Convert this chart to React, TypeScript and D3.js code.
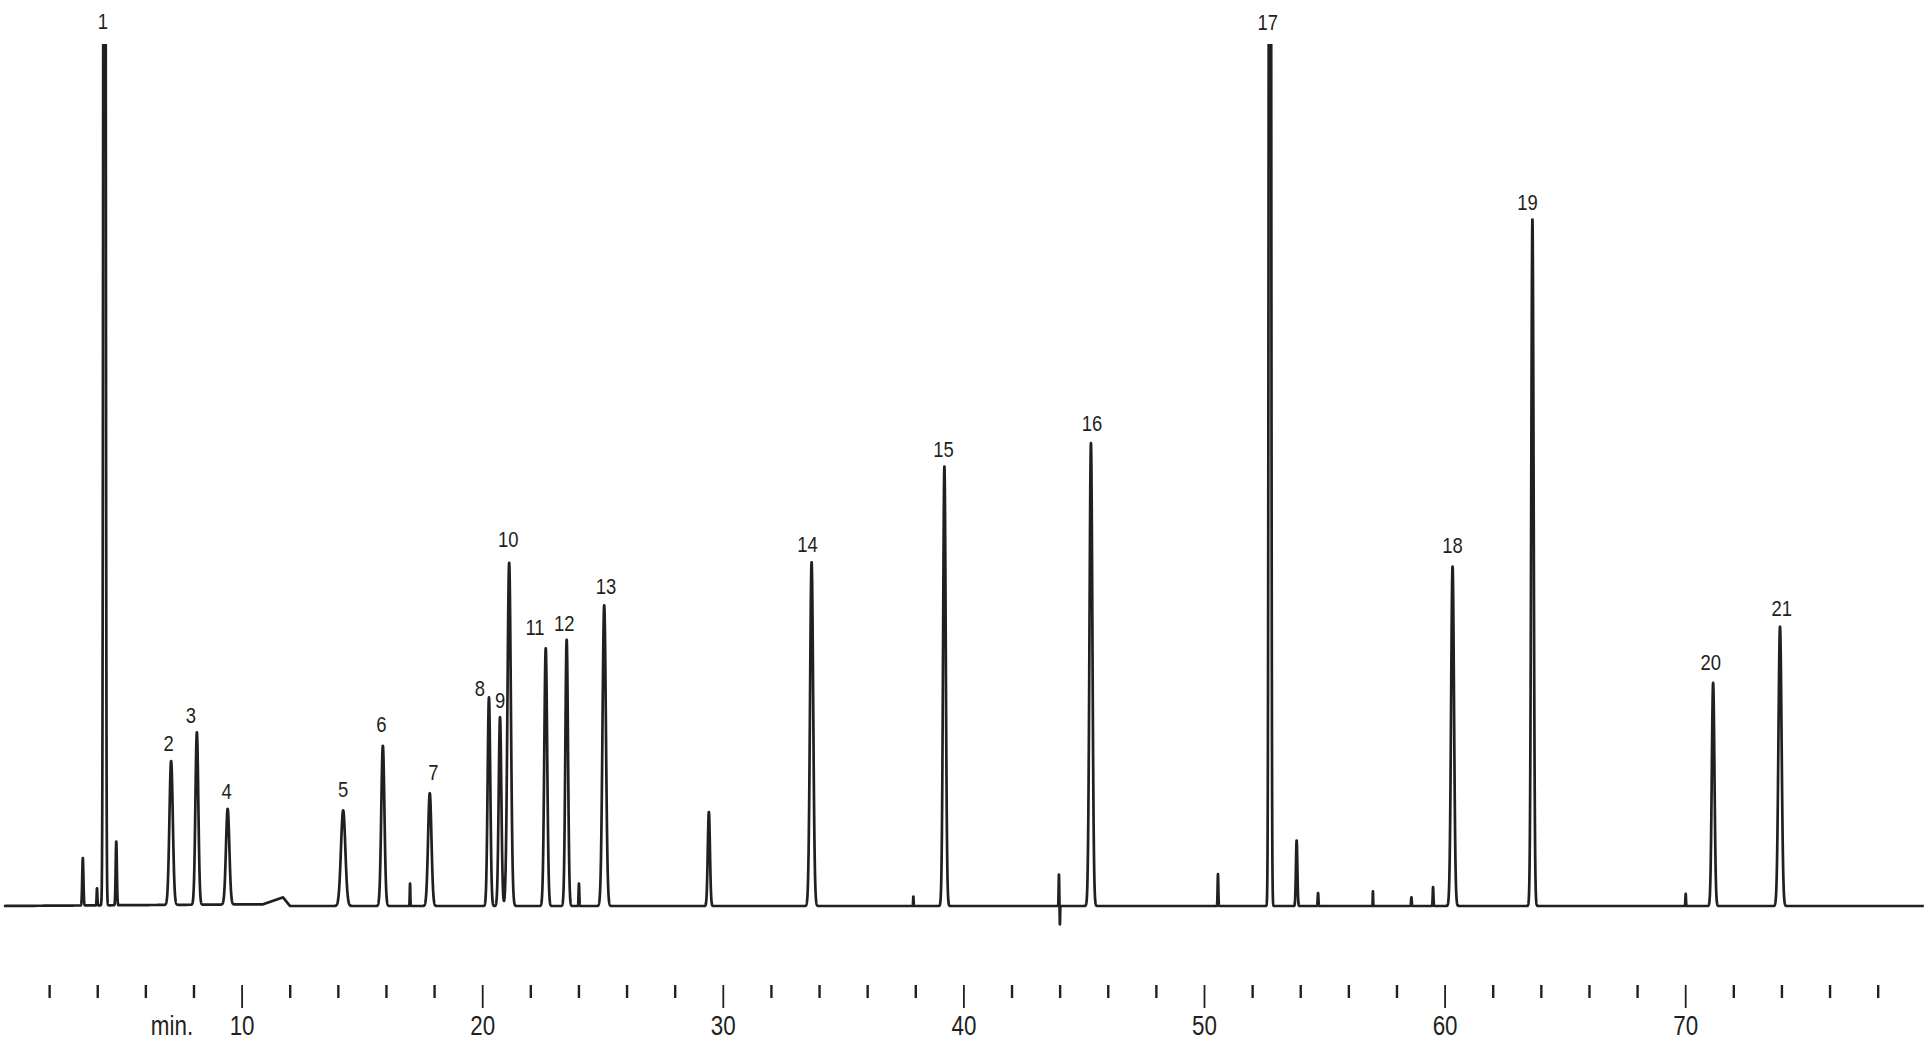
import React, { useMemo } from "react";
import * as d3 from "d3";

// ---- Data ----
// Numbered compounds: retention time (min), peak height (% of full scale), peak sigma (min)
const compoundNo = ["1","2","3","4","5","6","7","8","9","10","11","12","13","14","15","16","17","18","19","20","21"];
const compoundTime = [4.28, 7.05, 8.12, 9.40, 14.20, 15.85, 17.80, 20.26, 20.72, 21.10, 22.62, 23.49, 25.05, 33.67, 39.19, 45.28, 52.72, 60.31, 63.63, 71.14, 73.92];
const compoundHeight = [300, 16.7, 20.0, 11.1, 11.1, 18.6, 13.1, 24.2, 21.9, 39.8, 29.9, 30.9, 34.9, 39.9, 51.0, 53.7, 300, 39.4, 79.7, 25.9, 32.4];
const compoundSigma = [0.036, 0.07, 0.06, 0.07, 0.09, 0.065, 0.07, 0.055, 0.055, 0.07, 0.06, 0.055, 0.07, 0.065, 0.055, 0.06, 0.036, 0.06, 0.05, 0.055, 0.065];

// Unlabelled minor peaks / disturbances
const minorTime = [3.38, 3.97, 4.77, 16.98, 24.0, 29.40, 37.90, 43.95, 43.99, 50.56, 53.83, 54.72, 57.00, 58.60, 59.50, 70.00];
const minorHeight = [5.5, 2.0, 7.4, 2.6, 2.6, 10.9, 1.1, 3.7, -2.2, 3.7, 7.6, 1.5, 1.7, 1.0, 2.2, 1.4];
const minorSigma = [0.025, 0.015, 0.025, 0.012, 0.015, 0.045, 0.01, 0.012, 0.008, 0.015, 0.03, 0.015, 0.008, 0.015, 0.015, 0.012];

// Baseline drift segment (time, level)
const driftTime = [0, 10.87, 11.70, 11.99, 80];
const driftLevel = [0, 0.2, 1.0, 0, 0];

// Axis
const axisTicks = d3.range(2, 80, 2);
const axisLabels = [10, 20, 30, 40, 50, 60, 70];
const axisUnit = "min.";
const runStart = 0.1;
const runEnd = 79.9;

// Label pixel nudges (layout only)
const labelDx = [-1.5, -2.5, -6, -1, 0, -1.5, 3.5, -9, 0, -1, -10.7, -2.4, 1.7, -4, -1, 1, -2.3, 0, -5, -2.3, 1.7];
const labelDy = [-4, 0, 0, 0, -2, -3, -2, 10, 2, -4.6, -2, 2, 0, 1, 2, -1, -3, -2, 2, -1.7, 0];

const W = 1930;
const H = 1052;
const INK = "#231f20";
const FONT = "'Liberation Sans', Arial, sans-serif";

function CondText({ x, y, size, squeeze, children }: { x: number; y: number; size: number; squeeze: number; children: React.ReactNode }) {
  return (
    <text
      transform={`translate(${x},${y}) scale(${squeeze},1)`}
      textAnchor="middle"
      fontFamily={FONT}
      fontSize={size}
      fill={INK}
    >
      {children}
    </text>
  );
}

export default function App() {
  const x = d3.scaleLinear().domain([0, 80]).range([1.5, 1926.3]);
  const y = d3.scaleLinear().domain([0, 100]).range([906, 44]);
  const drift = d3.scaleLinear().domain(driftTime).range(driftLevel);

  const trace = useMemo(() => {
    const pts: [number, number][] = [];
    const step = 0.004;
    for (let t = runStart; t <= runEnd; t += step) {
      let v = drift(t);
      for (let i = 0; i < compoundTime.length; i++) {
        const d = (t - compoundTime[i]) / compoundSigma[i];
        if (Math.abs(d) < 8) v += compoundHeight[i] * Math.exp(-0.5 * d * d);
      }
      for (let i = 0; i < minorTime.length; i++) {
        const d = (t - minorTime[i]) / minorSigma[i];
        if (Math.abs(d) < 8) v += minorHeight[i] * Math.exp(-0.5 * d * d);
      }
      pts.push([t, v]);
    }
    return pts;
  }, []);

  const line = d3
    .line<[number, number]>()
    .x((d) => x(d[0]))
    .y((d) => y(Math.min(d[1], 101)));

  const tickTop = 985;

  if (typeof document !== "undefined") {
    document.body.style.margin = "0";
    document.body.style.overflow = "hidden";
  }

  return (
    <div style={{ position: "absolute", left: 0, top: 0, width: W, height: H, background: "#fff" }}>
      <svg width={W} height={H} style={{ display: "block" }}>
        <defs>
          <clipPath id="plotClip">
            <rect x={0} y={y(100)} width={W} height={H - y(100)} />
          </clipPath>
        </defs>
        <rect x={0} y={0} width={W} height={H} fill="#fff" />
        <path
          d={line(trace) || ""}
          fill="none"
          stroke={INK}
          strokeWidth={2.7}
          strokeLinejoin="round"
          clipPath="url(#plotClip)"
        />
        {compoundNo.map((name, i) => {
          const top = y(Math.min(compoundHeight[i], 100));
          return (
            <CondText key={name} x={x(compoundTime[i]) + labelDx[i]} y={top - 11 + labelDy[i]} size={22.5} squeeze={0.82}>
              {name}
            </CondText>
          );
        })}
        {axisTicks.map((t) => {
          const major = t % 10 === 0;
          return (
            <line
              key={t}
              x1={x(t)}
              x2={x(t)}
              y1={tickTop}
              y2={tickTop + (major ? 23 : 13)}
              stroke={INK}
              strokeWidth={major ? 1.8 : 2.4}
            />
          );
        })}
        {axisLabels.map((t) => (
          <CondText key={t} x={x(t)} y={1035} size={28} squeeze={0.8}>
            {t}
          </CondText>
        ))}
        <CondText x={172} y={1035} size={28} squeeze={0.8}>
          {axisUnit}
        </CondText>
      </svg>
    </div>
  );
}
